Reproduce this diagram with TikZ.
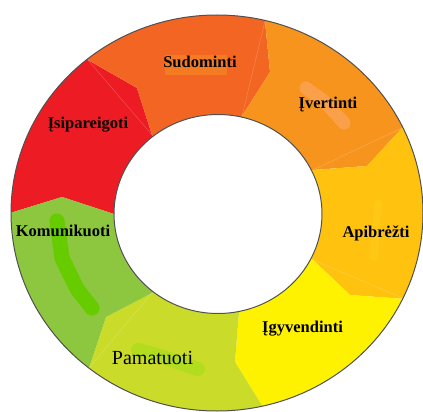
\documentclass[tikz,border=0pt]{standalone}
\usepackage{fontspec}
\setmainfont{Liberation Serif}
\usetikzlibrary{calc}
\definecolor{cred}{HTML}{ED1C24}
\definecolor{corred}{HTML}{F26522}
\definecolor{corange}{HTML}{F7941D}
\definecolor{camber}{HTML}{FFC20E}
\definecolor{cyellow}{HTML}{FFF200}
\definecolor{cyg}{HTML}{CBDB2A}
\definecolor{cgreen}{HTML}{8DC63F}
\definecolor{cedge}{HTML}{505050}
\definecolor{hlorred}{HTML}{F47B22}
\definecolor{hlorange}{HTML}{FAA04A}
\definecolor{hlamber}{HTML}{FFC815}
\definecolor{hlgreen}{HTML}{66CC00}
\definecolor{hlyg}{HTML}{B2DC1E}
\tikzset{
  seglabel/.style={inner sep=0pt, anchor=base, font=\bfseries\fontsize{16.5}{19}\selectfont},
  seglabelr/.style={inner sep=0pt, anchor=base, font=\fontsize{20}{24}\selectfont},
  blob/.style={line cap=round, line join=round},
  seam/.style={white, opacity=0.25, line width=0.4pt},
  ringedge/.style={draw=cedge, line width=1pt}
}
\begin{document}
\begin{tikzpicture}[x=1pt,y=-1pt]
\useasboundingbox (0,0) rectangle (423,412);
\coordinate (C) at (217,213);
\coordinate (I) at (218,214);
% boundary polylines: inner, middle, outer
\coordinate (b1i) at (114,214); \coordinate (b1m) at (62,197);  \coordinate (b1o) at (10,213);
\coordinate (b2i) at (152,135); \coordinate (b2m) at (137,88);  \coordinate (b2o) at (88,60);
\coordinate (b3i) at (242,116); \coordinate (b3m) at (270,72);  \coordinate (b3o) at (265,21);
\coordinate (b4i) at (313,170); \coordinate (b4m) at (367,166); \coordinate (b4o) at (402,128);
\coordinate (b5i) at (313,260); \coordinate (b5m) at (350,295); \coordinate (b5o) at (405,299);
\coordinate (b6i) at (239,312); \coordinate (b6m) at (235,362); \coordinate (b6o) at (263,407);
\coordinate (b7i) at (152,293); \coordinate (b7m) at (106,317); \coordinate (b7o) at (89,368);
\foreach \k in {1,...,7} { \coordinate (b\k f) at ($(C)!2.2!(b\k o)$); }
\begin{scope}
  \clip (C) ellipse [x radius=206pt, y radius=198pt];
  \fill[cred]    (C) -- (b1i) -- (b1m) -- (b1o) -- (b1f) -- (b2f) -- (b2o) -- (b2m) -- (b2i) -- cycle;
  \fill[corred]  (C) -- (b2i) -- (b2m) -- (b2o) -- (b2f) -- (b3f) -- (b3o) -- (b3m) -- (b3i) -- cycle;
  \fill[corange] (C) -- (b3i) -- (b3m) -- (b3o) -- (b3f) -- (b4f) -- (b4o) -- (b4m) -- (b4i) -- cycle;
  \fill[camber]  (C) -- (b4i) -- (b4m) -- (b4o) -- (b4f) -- (b5f) -- (b5o) -- (b5m) -- (b5i) -- cycle;
  \fill[cyellow] (C) -- (b5i) -- (b5m) -- (b5o) -- (b5f) -- (b6f) -- (b6o) -- (b6m) -- (b6i) -- cycle;
  \fill[cyg]     (C) -- (b6i) -- (b6m) -- (b6o) -- (b6f) -- (b7f) -- (b7o) -- (b7m) -- (b7i) -- cycle;
  \fill[cgreen]  (C) -- (b7i) -- (b7m) -- (b7o) -- (b7f) -- (b1f) -- (b1o) -- (b1m) -- (b1i) -- cycle;
  % highlight strokes
  \fill[hlorred] (165,55) rectangle (227,75);
  \draw[blob, draw=hlorange, line width=13pt] (306,88) -- (324,101) -- (344,123);
  \draw[blob, draw=hlamber, line width=8pt] (378,204) -- (374,257);
  \draw[blob, draw=hlgreen, line width=15pt] (57,221) -- (62,258) -- (77,289) -- (92,308);
  \draw[blob, draw=hlyg, line width=14pt] (138,350) -- (160,356) -- (198,369);
  % faint seams
  \foreach \k in {2,3,4,5,7} { \draw[seam] (b\k i) -- (b\k o); }
\end{scope}
\fill[white] (I) ellipse [x radius=104pt, y radius=99.5pt];
\draw[ringedge] (I) ellipse [x radius=104pt, y radius=99.5pt];
\draw[ringedge] (C) ellipse [x radius=206pt, y radius=198pt];
% labels
\node[seglabel] (l1) at (88,128) {Įsipareigoti};
\node[seglabel] (l2) at (200,67.5) {Sudominti};
\node[seglabel] (l3) at (328,108) {Įvertinti};
\node[seglabel] (l4) at (376,237) {Apibrėžti};
\node[seglabel] (l5) at (302.5,332) {Įgyvendinti};
\node[seglabelr] (l6) at (152.5,364) {Pamatuoti};
\node[seglabel] (l7) at (63,236) {Komunikuoti};
\end{tikzpicture}
\end{document}
